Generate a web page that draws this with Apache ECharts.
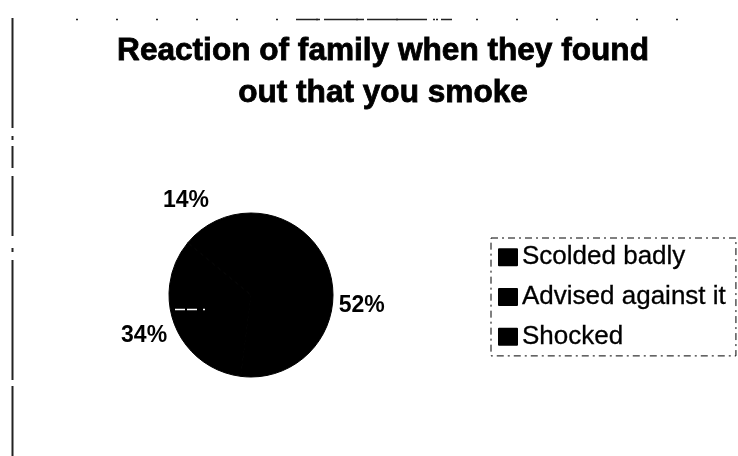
<!DOCTYPE html>
<html>
<head>
<meta charset="utf-8">
<script src="https://cdn.jsdelivr.net/npm/echarts@6/dist/echarts.min.js"></script>
<style>
  html, body { margin: 0; padding: 0; background: #fff; }
  #chart { width: 738px; height: 456px; }
</style>
</head>
<body>
<div id="chart"></div>
<script>
// Survey answers: how the family reacted on finding out
const categories = ['Scolded badly', 'Advised against it', 'Shocked'];
const shares = [52, 34, 14];
const chartTitle = 'Reaction of family when they found\nout that you smoke';

// small label nudges (px) so the labels sit where the layout puts them
const labelNudge = [[-4, 3], [0, -2], [-16, 10]];

const pieData = categories.map((name, i) => ({ name: name, value: shares[i] }));
const labelData = categories.map((name, i) => ({
  name: name,
  value: shares[i],
  label: { offset: labelNudge[i] }
}));

const chart = echarts.init(document.getElementById('chart'), null, { renderer: 'canvas' });

chart.setOption({
  backgroundColor: '#ffffff',
  animation: false,
  title: {
    text: chartTitle,
    left: 378,
    top: 25,
    textAlign: 'center',
    textStyle: {
      fontFamily: 'Liberation Sans',
      fontWeight: 'bold',
      fontSize: 31.6,
      lineHeight: 42,
      color: '#000',
      textBorderColor: '#000',
      textBorderWidth: 0.8
    }
  },
  legend: {
    orient: 'vertical',
    left: 491,
    top: 238,
    data: categories,
    icon: 'rect',
    itemWidth: 18,
    itemHeight: 16,
    itemGap: 13.5,
    padding: [6, 10, 6, 7],
    borderColor: '#000',
    borderWidth: 1,
    borderType: [7, 4, 2, 4],
    selectedMode: false,
    textStyle: {
      fontFamily: 'Liberation Sans',
      fontSize: 26,
      lineHeight: 26,
      color: '#000',
      textBorderColor: '#000',
      textBorderWidth: 0.3
    }
  },
  series: [
    {
      name: 'Reaction',
      type: 'pie',
      center: [251, 295],
      radius: [0, 82],
      startAngle: 90,
      clockwise: true,
      silent: true,
      itemStyle: { color: '#000', borderColor: '#000', borderWidth: 1 },
      label: { show: false },
      labelLine: { show: false },
      data: pieData
    },
    {
      name: 'Reaction labels',
      type: 'pie',
      center: [251, 295],
      radius: [98, 126],
      startAngle: 90,
      clockwise: true,
      silent: true,
      legendHoverLink: false,
      itemStyle: { color: 'rgba(0,0,0,0)', borderWidth: 0 },
      label: {
        show: true,
        position: 'inside',
        formatter: '{c}%',
        fontFamily: 'Liberation Sans',
        fontWeight: 'bold',
        fontSize: 23,
        color: '#000'
      },
      labelLine: { show: false },
      data: labelData
    }
  ],
  graphic: [
    // frame edges of the chart area
    {
      type: 'line',
      shape: { x1: 12.5, y1: 18, x2: 12.5, y2: 456 },
      style: { stroke: '#222', lineWidth: 2, lineDash: [110, 8, 4, 6, 22, 8, 60, 12, 4, 8, 120, 6] }
    },
    {
      type: 'line',
      shape: { x1: 76, y1: 19.5, x2: 713, y2: 19.5 },
      style: { stroke: '#222', lineWidth: 1.5, lineDash: [2, 38] }
    },
    {
      type: 'line',
      shape: { x1: 296, y1: 19.5, x2: 452, y2: 19.5 },
      style: { stroke: '#222', lineWidth: 1.5, lineDash: [24, 4, 40, 3, 60, 6, 2, 6] }
    },
    // stray light stroke across the left of the disc
    {
      type: 'line',
      z: 10,
      shape: { x1: 175, y1: 309.5, x2: 206, y2: 309.5 },
      style: { stroke: '#fff', lineWidth: 1.5, lineDash: [10, 2, 10, 6, 2] }
    }
  ]
});
</script>
</body>
</html>
